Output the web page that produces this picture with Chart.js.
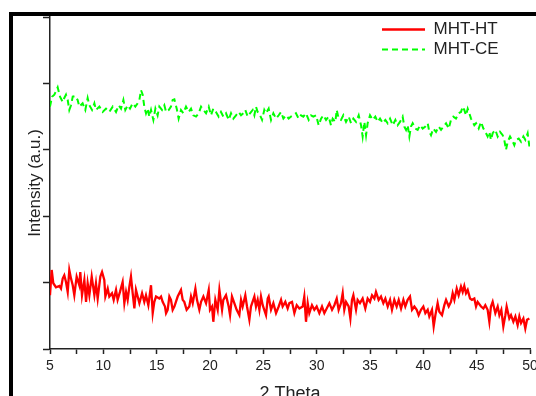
<!DOCTYPE html>
<html>
<head>
<meta charset="utf-8">
<script src="https://cdn.jsdelivr.net/npm/chart.js@4.4.1/dist/chart.umd.min.js"></script>
<style>
  html, body { margin: 0; padding: 0; background: #fff; }
  canvas { display: block; }
</style>
</head>
<body>
<canvas id="myChart" width="536" height="396"></canvas>
<script>
// 2 Theta positions and intensities
const htTheta = [5.00,5.16,5.31,5.56,5.88,6.03,6.19,6.34,6.50,6.66,6.81,6.97,7.13,7.28,7.50,7.75,7.84,8.00,8.22,8.38,8.53,8.69,8.91,9.16,9.31,9.47,9.72,9.88,10.09,10.19,10.41,10.56,10.81,10.97,11.19,11.34,11.56,11.81,11.97,12.13,12.28,12.44,12.59,12.75,12.91,13.06,13.22,13.38,13.63,13.84,14.00,14.22,14.47,14.63,14.78,14.94,15.25,15.41,15.56,15.78,15.88,16.03,16.19,16.34,16.50,16.66,16.97,17.28,17.44,17.59,17.81,18.06,18.22,18.38,18.63,18.78,19.00,19.16,19.38,19.63,19.88,20.00,20.19,20.31,20.50,20.72,20.88,21.13,21.25,21.50,21.75,21.88,22.06,22.28,22.50,22.75,22.91,23.06,23.31,23.47,23.69,23.84,24.16,24.31,24.47,24.63,24.78,24.94,25.25,25.41,25.50,25.72,25.94,26.19,26.44,26.66,26.81,27.06,27.28,27.44,27.69,27.91,28.13,28.38,28.69,28.84,29.00,29.16,29.31,29.56,29.78,30.00,30.25,30.50,30.72,30.94,31.19,31.44,31.66,31.88,32.06,32.28,32.44,32.59,32.75,33.00,33.16,33.31,33.44,33.69,33.84,34.06,34.31,34.56,34.78,35.00,35.19,35.41,35.56,35.81,36.03,36.25,36.44,36.66,36.88,37.06,37.28,37.50,37.69,37.91,38.13,38.31,38.53,38.75,38.94,39.16,39.38,39.56,39.78,40.00,40.19,40.41,40.56,40.81,40.97,41.13,41.34,41.50,41.75,41.97,42.13,42.38,42.59,42.75,42.91,43.13,43.31,43.53,43.69,43.84,44.00,44.16,44.38,44.56,44.78,44.94,45.09,45.41,45.63,45.81,46.03,46.19,46.34,46.50,46.75,46.97,47.13,47.31,47.50,47.69,47.81,48.06,48.22,48.44,48.63,48.84,49.00,49.16,49.38,49.56,49.72,49.94];
const htIntensity = [81,119,99,93,95,91,106,111,101,86,119,106,96,81,109,96,116,81,104,71,99,81,109,81,99,76,109,116,104,79,91,79,84,74,89,74,86,101,69,86,74,94,109,84,61,89,79,69,84,71,81,66,96,54,71,79,76,79,71,64,54,59,79,74,59,64,79,89,74,71,59,64,79,69,91,74,59,71,79,69,89,59,64,41,74,59,89,59,74,81,64,51,79,69,59,51,74,64,81,64,44,64,79,64,74,59,79,66,51,76,79,59,69,54,64,74,64,71,61,69,71,54,66,61,64,79,41,69,54,66,59,64,54,64,54,61,69,59,66,76,59,69,84,59,71,64,46,74,81,59,74,69,76,61,76,71,81,76,86,74,79,69,76,64,74,59,74,64,74,61,74,64,74,79,59,64,59,51,59,64,54,59,49,59,34,51,69,56,51,66,74,64,71,84,74,91,81,94,86,95,84,89,76,74,76,64,71,64,61,66,59,41,64,71,54,64,51,59,34,51,64,46,51,41,49,36,49,39,46,31,44,46];

const ceTheta = [5.00,5.19,5.41,5.72,5.94,6.19,6.34,6.50,6.66,6.81,6.97,7.13,7.38,7.59,7.75,8.06,8.31,8.53,8.69,8.94,9.16,9.31,9.63,9.94,10.25,10.56,10.88,11.19,11.44,11.66,11.88,12.06,12.28,12.50,12.75,13.00,13.22,13.38,13.53,13.69,13.84,14.00,14.16,14.31,14.47,14.69,14.88,15.09,15.25,15.50,15.72,15.88,16.13,16.34,16.50,16.66,16.88,17.06,17.28,17.50,17.75,18.00,18.22,18.44,18.69,18.94,19.16,19.38,19.63,19.88,20.09,20.31,20.56,20.81,21.03,21.25,21.50,21.75,21.97,22.19,22.44,22.69,22.91,23.13,23.31,23.53,23.75,24.00,24.16,24.31,24.47,24.69,24.88,25.09,25.25,25.50,25.72,25.94,26.19,26.44,26.66,26.88,27.13,27.38,27.59,27.81,28.06,28.31,28.53,28.75,29.00,29.25,29.47,29.69,29.94,30.19,30.41,30.63,30.88,31.13,31.34,31.50,31.75,31.88,32.06,32.28,32.50,32.75,33.00,33.22,33.44,33.69,33.94,34.16,34.31,34.47,34.63,34.78,35.00,35.25,35.50,35.72,35.94,36.19,36.44,36.66,36.88,37.13,37.38,37.59,37.81,38.06,38.22,38.38,38.53,38.69,38.84,39.00,39.25,39.47,39.69,39.94,40.19,40.41,40.56,40.72,40.94,41.19,41.44,41.66,41.88,42.13,42.38,42.59,42.81,43.06,43.31,43.53,43.69,43.84,44.00,44.16,44.31,44.47,44.63,44.78,44.94,45.19,45.41,45.63,45.88,46.03,46.19,46.34,46.50,46.75,46.97,47.19,47.44,47.59,47.75,47.91,48.13,48.31,48.53,48.69,48.94,49.16,49.38,49.56,49.78,49.94];
const ceIntensity = [365,380,383,394,380,372,378,383,375,360,367,380,381,375,365,370,360,378,367,360,370,360,365,357,362,357,365,357,367,362,375,360,367,362,370,365,370,375,390,383,365,355,362,350,360,345,362,352,365,360,367,357,360,365,375,376,362,347,360,355,365,357,362,352,350,355,365,360,355,365,352,362,357,350,357,350,355,345,355,347,352,357,352,355,360,350,355,360,352,365,357,352,345,360,355,362,345,355,347,352,357,347,352,347,350,352,355,347,352,350,355,345,352,350,352,337,347,352,345,350,337,347,342,360,347,345,352,342,350,340,347,342,352,337,320,342,322,340,352,345,350,342,347,340,345,340,347,337,345,337,342,350,335,330,337,320,335,340,332,330,337,332,335,340,327,322,332,327,335,330,335,340,332,345,350,347,355,357,365,360,352,362,355,347,342,337,340,332,342,332,325,320,327,315,325,330,320,327,322,315,300,312,320,315,307,315,317,312,320,315,325,305];

const seriesNames = ['MHT-HT', 'MHT-CE'];
const yTicks = [0, 100, 200, 300, 400, 500];
const xTickLabels = [5, 10, 15, 20, 25, 30, 35, 40, 45, 50];

function toPoints(xs, ys) {
  return xs.map((x, i) => ({ x: x, y: ys[i] }));
}

// black frame edge at the left and top
const frame = {
  id: 'frame',
  beforeDraw(chart) {
    const ctx = chart.ctx;
    ctx.save();
    ctx.fillStyle = '#fff';
    ctx.fillRect(0, 0, chart.width, chart.height);
    ctx.fillStyle = '#000';
    ctx.fillRect(9, 12, chart.width - 9, 4);
    ctx.fillRect(9, 12, 4, chart.height - 12);
    ctx.restore();
  }
};

// move the legend to the top right corner of the plot
const legendSpot = {
  id: 'legendSpot',
  afterLayout(chart) {
    chart.legend.left = 379;
    chart.legend.top = 18;
  }
};

const fontFamily = 'Arial, "Liberation Sans", sans-serif';

const ctx = document.getElementById('myChart').getContext('2d');
const myChart = new Chart(ctx, {
  type: 'line',
  data: {
    datasets: [{
      label: seriesNames[0],
      data: toPoints(htTheta, htIntensity),
      borderColor: '#ff0000',
      backgroundColor: '#ff0000',
      borderWidth: 2.3,
      pointRadius: 0,
      tension: 0
    }, {
      label: seriesNames[1],
      data: toPoints(ceTheta, ceIntensity),
      borderColor: '#00ff00',
      backgroundColor: 'rgba(0,0,0,0)',
      borderWidth: 2,
      borderDash: [6, 4],
      pointRadius: 0,
      tension: 0
    }]
  },
  options: {
    responsive: false,
    devicePixelRatio: 1,
    animation: false,
    layout: { padding: { left: 0, right: 6, top: 17, bottom: 0 } },
    plugins: {
      legend: {
        position: 'chartArea',
        align: 'start',
        labels: {
          boxWidth: 43,
          boxHeight: 0,
          padding: 3,
          color: '#222',
          font: { family: fontFamily, size: 17 }
        }
      },
      tooltip: { enabled: false }
    },
    scales: {
      x: {
        type: 'linear',
        min: 5,
        max: 50,
        border: { display: true, color: '#222', width: 1.5 },
        grid: { drawOnChartArea: false, drawTicks: true, tickLength: 5, tickColor: '#222', tickWidth: 1.5 },
        ticks: {
          stepSize: 2.5,
          autoSkip: false,
          maxRotation: 0,
          padding: 4,
          color: '#222',
          font: { family: fontFamily, size: 14 },
          callback: (v) => xTickLabels.includes(v) ? String(v) : ''
        },
        title: {
          display: true,
          text: '2 Theta',
          color: '#222',
          font: { family: fontFamily, size: 18 },
          padding: { top: 0, bottom: -9 }
        },
        afterFit(scale) {
          scale.height = 47;
          scale.paddingLeft = 0;
          scale.paddingRight = 0;
        }
      },
      y: {
        min: yTicks[0],
        max: yTicks[yTicks.length - 1],
        border: { display: true, color: '#222', width: 1.5 },
        grid: { drawOnChartArea: false, drawTicks: true, tickLength: 7, tickColor: '#222', tickWidth: 1.5 },
        ticks: { stepSize: 100, display: false },
        title: {
          display: true,
          text: 'Intensity (a.u.)',
          color: '#222',
          font: { family: fontFamily, size: 17 },
          padding: { top: 25, bottom: 0 }
        },
        afterFit(scale) {
          scale.width = 50;
          scale.paddingTop = 0;
          scale.paddingBottom = 0;
        }
      }
    }
  },
  plugins: [frame, legendSpot]
});
</script>
</body>
</html>
